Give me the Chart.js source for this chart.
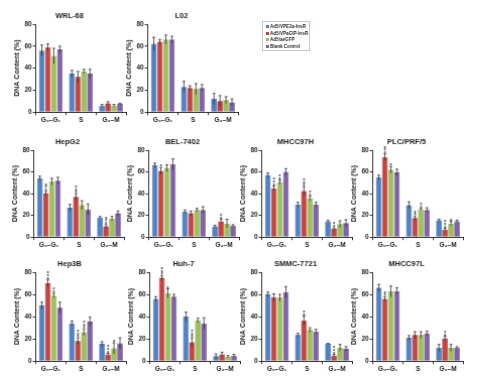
<!DOCTYPE html>
<html>
<head>
<meta charset="utf-8">
<script src="https://cdn.jsdelivr.net/npm/chart.js@4.4.1/dist/chart.umd.min.js"></script>
<style>
  body { margin: 0; width: 483px; height: 387px; background: #fff; position: relative; overflow: hidden; font-family: "Liberation Sans", Arial, sans-serif; }
  .panel { position: absolute; }
  #legend { position: absolute; left: 262px; top: 21px; width: 48px; height: 30px; border: 1px solid #c8c8c8; box-sizing: border-box; padding: 2px 0 0 3px; font-size: 4.6px; font-weight: bold; color: #333; }
  #legend div { height: 6.5px; line-height: 6.5px; white-space: nowrap; }
  #legend i { display: inline-block; width: 3px; height: 3px; margin-right: 1px; vertical-align: 0; }
</style>
</head>
<body>
<div id="legend"></div>
<script>
const phases = ['G₀–G₁', 'S', 'G₂–M'];
const groups = ['Ad5/VPE2a-InsR', 'Ad5/VPaGIP-InsR', 'Ad5/aeGFP', 'Blank Control'];
const colors = ['#4f81c6', '#c8433f', '#9cc05a', '#8162a8'];
const edges = ['#2f5c98', '#8c2b29', '#6f8f3a', '#5a427e'];

// values per series (blue, red, green, purple), each [G0-G1, S, G2-M]
const wrl68 = [[56, 35, 6], [59, 32, 8], [51, 37, 6], [57, 35, 7.5]];
const wrl68Sd = [[5, 3, 1], [3, 5, 1.5], [7, 2, 1], [3, 4, 0.5]];
const wrl68Sig = [];

const l02 = [[62, 23, 12], [64, 22, 10], [66, 21, 11], [66, 22, 9]];
const l02Sd = [[6, 5, 5], [2, 2, 5], [4, 5, 3], [3, 3, 3]];
const l02Sig = [];

const hepg2 = [[54, 27, 18], [40, 37, 10], [51, 29.5, 17], [52, 25.5, 22]];
const hepg2Sd = [[2, 3, 1], [2, 3, 1.5], [3, 4, 2], [3, 5, 2]];
const hepg2Sig = [[1, 0, '***'], [1, 1, '***'], [1, 2, '***']];

const bel7402 = [[66, 23.5, 10], [61, 22, 14.5], [63.5, 25, 12.5], [67, 25, 10.5]];
const bel7402Sd = [[2, 1.5, 1], [3, 2, 2], [3, 1.5, 4], [5, 3, 1]];
const bel7402Sig = [[1, 0, '*'], [1, 2, '**']];

const mhcc97h = [[57, 30, 14.5], [45, 42.5, 7.5], [50.5, 35.5, 12], [60, 30, 13]];
const mhcc97hSd = [[2, 2, 1], [2, 4, 1], [2, 2, 3], [3, 2, 3]];
const mhcc97hSig = [[1, 0, '***'], [2, 0, '**'], [1, 1, '***'], [2, 1, '**'], [1, 2, '**']];

const plc = [[55, 29.5, 15.5], [73.5, 17.5, 7], [62, 25.5, 12.5], [59.5, 25, 14.5]];
const plcSd = [[2, 3, 1], [3, 2, 1], [3, 1, 2], [3, 2, 1]];
const plcSig = [[1, 0, '***'], [2, 0, '*'], [1, 1, '**'], [2, 1, '**'], [1, 2, '***'], [2, 2, '*']];

const hep3b = [[50, 34, 15.5], [70, 18, 6], [59, 26, 11.5], [48, 35.5, 16]];
const hep3bSd = [[3, 2, 2], [3, 3, 1], [2, 3, 5], [5, 4, 5]];
const hep3bSig = [[1, 0, '***'], [2, 0, '**'], [1, 1, '***'], [2, 1, '***'], [1, 2, '***'], [2, 2, '*']];

const huh7 = [[56, 40, 4.5], [75, 17, 6], [61, 36.5, 4], [58, 34, 5]];
const huh7Sd = [[2, 4, 2], [2, 4, 2], [4, 2, 1], [2, 5, 1]];
const huh7Sig = [[1, 0, '***'], [2, 0, '*'], [1, 1, '***']];

const smmc7721 = [[60, 23.5, 15.5], [57.5, 36.5, 5], [57, 28, 12], [62, 26.5, 11]];
const smmc7721Sd = [[2, 1.5, 0.5], [3, 4, 1], [3, 2, 3], [5, 2, 2]];
const smmc7721Sig = [[1, 1, '**'], [1, 2, '***']];

const mhcc97l = [[66, 21, 12], [56, 23.5, 20.5], [62.5, 23.5, 12], [63, 25, 12]];
const mhcc97lSd = [[3, 2, 3], [2, 3, 2], [5, 3, 3], [3, 2, 1]];
const mhcc97lSig = [[1, 0, '**'], [1, 2, '**']];

const yTicks = [0, 20, 40, 60, 80];

// where each panel's plot area sits on the page
const panels = [
  { title: 'WRL-68', means: wrl68, sd: wrl68Sd, sig: wrl68Sig, x: 36, top: 24, bottom: 112 },
  { title: 'L02', means: l02, sd: l02Sd, sig: l02Sig, x: 148, top: 24, bottom: 112 },
  { title: 'HepG2', means: hepg2, sd: hepg2Sd, sig: hepg2Sig, x: 34, top: 150, bottom: 237 },
  { title: 'BEL-7402', means: bel7402, sd: bel7402Sd, sig: bel7402Sig, x: 149, top: 150, bottom: 237 },
  { title: 'MHCC97H', means: mhcc97h, sd: mhcc97hSd, sig: mhcc97hSig, x: 262, top: 150, bottom: 237 },
  { title: 'PLC/PRF/5', means: plc, sd: plcSd, sig: plcSig, x: 373, top: 150, bottom: 237 },
  { title: 'Hep3B', means: hep3b, sd: hep3bSd, sig: hep3bSig, x: 36, top: 272, bottom: 361 },
  { title: 'Huh-7', means: huh7, sd: huh7Sd, sig: huh7Sig, x: 150, top: 272, bottom: 361 },
  { title: 'SMMC-7721', means: smmc7721, sd: smmc7721Sd, sig: smmc7721Sig, x: 262, top: 272, bottom: 361 },
  { title: 'MHCC97L', means: mhcc97l, sd: mhcc97lSd, sig: mhcc97lSig, x: 373, top: 272, bottom: 361 },
];
const plotW = 90;

Chart.defaults.font.family = '"Liberation Sans", Arial, sans-serif';
Chart.defaults.color = '#222';

// legend
const legend = document.getElementById('legend');
groups.forEach((g, i) => {
  legend.innerHTML += `<div><i style="background:${colors[i]}"></i>${g}</div>`;
});

function config(p) {
  const errorBars = {
    id: 'errorBars',
    afterDatasetsDraw(chart) {
      const { ctx } = chart;
      const y = chart.scales.y;
      ctx.save();
      ctx.strokeStyle = '#333';
      ctx.lineWidth = 0.8;
      chart.data.datasets.forEach((ds, i) => {
        chart.getDatasetMeta(i).data.forEach((bar, j) => {
          const v = ds.data[j], e = p.sd[i][j];
          const yt = y.getPixelForValue(v + e), yb = y.getPixelForValue(v - e);
          ctx.beginPath();
          ctx.moveTo(bar.x, yt); ctx.lineTo(bar.x, yb);
          ctx.moveTo(bar.x - 1.5, yt); ctx.lineTo(bar.x + 1.5, yt);
          ctx.stroke();
        });
      });
      // significance stars, stacked upwards above the error bar
      ctx.fillStyle = '#333';
      ctx.font = 'bold 6px "Liberation Sans", Arial, sans-serif';
      ctx.textAlign = 'center';
      ctx.textBaseline = 'top';
      p.sig.forEach(([i, j, s]) => {
        const bar = chart.getDatasetMeta(i).data[j];
        const top = y.getPixelForValue(chart.data.datasets[i].data[j] + p.sd[i][j]);
        for (let k = 0; k < s.length; k++) {
          ctx.fillText('*', bar.x, top - 3.5 - k * 2.7);
        }
      });
      ctx.restore();
    }
  };

  return {
    type: 'bar',
    data: {
      labels: phases,
      datasets: groups.map((g, i) => ({
        label: g,
        data: p.means[i],
        backgroundColor: colors[i],
        borderColor: edges[i],
        borderWidth: 0.6,
        barPercentage: 0.95,
        categoryPercentage: 0.8,
      })),
    },
    options: {
      responsive: false,
      maintainAspectRatio: false,
      animation: false,
      layout: { padding: { left: 0, right: 2, top: 0, bottom: 0 } },
      plugins: {
        legend: { display: false },
        tooltip: { enabled: false },
        title: {
          display: true,
          text: p.title,
          color: '#222',
          font: { size: 7.5, weight: 'bold' },
          padding: { top: 2, bottom: 4 },
        },
      },
      scales: {
        x: {
          grid: { drawOnChartArea: false, tickLength: 3, color: '#333' },
          border: { color: '#333', width: 1 },
          ticks: { font: { size: 6.5, weight: 'bold' }, padding: 1, maxRotation: 0, autoSkip: false },
        },
        y: {
          min: 0,
          max: 80,
          afterBuildTicks: (s) => { s.ticks = yTicks.map(v => ({ value: v })); },
          grid: { drawOnChartArea: false, tickLength: 3, color: '#333' },
          border: { color: '#333', width: 1 },
          ticks: { font: { size: 6.5, weight: 'bold' }, padding: 1 },
          title: {
            display: true,
            text: 'DNA Content (%)',
            font: { size: 7, weight: 'bold' },
            padding: { top: 0, bottom: 2 },
          },
        },
      },
    },
    plugins: [errorBars],
  };
}

function makePanel(p) {
  const wrap = document.createElement('div');
  wrap.className = 'panel';
  const cv = document.createElement('canvas');
  wrap.appendChild(cv);
  document.body.appendChild(wrap);

  const plotH = p.bottom - p.top;
  let W = 130, H = plotH + 34;
  cv.width = W; cv.height = H;
  let chart = new Chart(cv, config(p));
  let a = chart.chartArea;
  W += plotW - (a.right - a.left);
  H += plotH - (a.bottom - a.top);
  chart.destroy();

  cv.width = W; cv.height = H;
  cv.style.width = W + 'px'; cv.style.height = H + 'px';
  chart = new Chart(cv, config(p));
  a = chart.chartArea;
  wrap.style.left = (p.x - a.left) + 'px';
  wrap.style.top = (p.top - a.top) + 'px';
}

panels.forEach(makePanel);
</script>
</body>
</html>
